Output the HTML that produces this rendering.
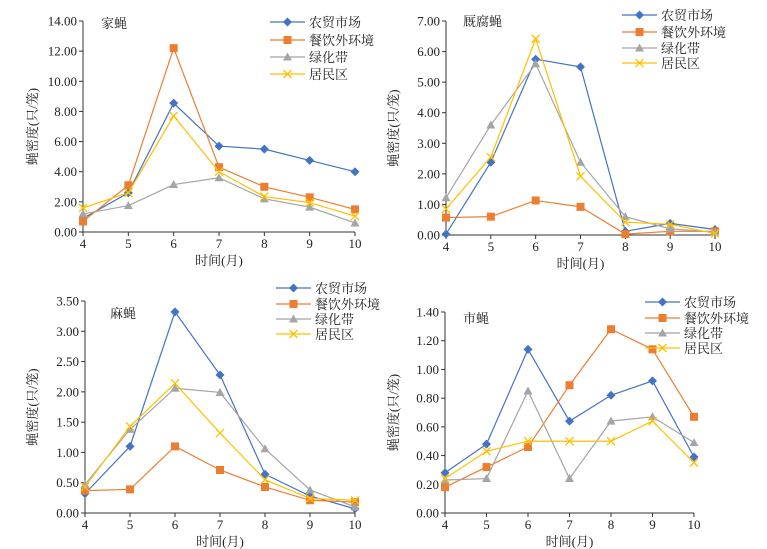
<!DOCTYPE html>
<html><head><meta charset="utf-8"><style>
html,body{margin:0;padding:0;background:#fff;}
svg{display:block;font-family:"Liberation Serif","Noto Serif CJK SC","Noto Sans CJK SC",serif;}
</style></head><body>
<svg id="chart" width="767" height="549" viewBox="0 0 767 549" xmlns="http://www.w3.org/2000/svg"></svg>
<script>
const months = [4,5,6,7,8,9,10];
const seriesNames = ["农贸市场","餐饮外环境","绿化带","居民区"];
const housefly_market = [0.9,2.6,8.55,5.7,5.5,4.75,4.0];
const housefly_food = [0.7,3.1,12.2,4.3,3.0,2.3,1.5];
const housefly_green = [1.2,1.75,3.15,3.6,2.2,1.65,0.6];
const housefly_resid = [1.6,2.6,7.7,4.0,2.35,1.95,1.05];
const blowfly_market = [0.03,2.38,5.75,5.5,0.12,0.38,0.18];
const blowfly_food = [0.57,0.6,1.13,0.92,0.03,0.12,0.12];
const blowfly_green = [1.22,3.6,5.6,2.38,0.6,0.2,0.1];
const blowfly_resid = [0.85,2.55,6.42,1.92,0.42,0.35,0.05];
const flesh_market = [0.32,1.1,3.32,2.28,0.64,0.28,0.07];
const flesh_food = [0.37,0.39,1.1,0.71,0.43,0.21,0.18];
const flesh_green = [0.47,1.38,2.06,1.99,1.06,0.38,0.1];
const flesh_resid = [0.43,1.43,2.14,1.32,0.55,0.24,0.21];
const musca_market = [0.28,0.48,1.14,0.64,0.82,0.92,0.39];
const musca_food = [0.18,0.32,0.46,0.89,1.28,1.14,0.67];
const musca_green = [0.23,0.24,0.85,0.24,0.64,0.67,0.49];
const musca_resid = [0.24,0.43,0.50,0.50,0.50,0.64,0.35];
const ticks1 = [0,2,4,6,8,10,12,14];
const ticks2 = [0,1,2,3,4,5,6,7];
const ticks3 = [0,0.5,1,1.5,2,2.5,3,3.5];
const ticks4 = [0,0.2,0.4,0.6,0.8,1.0,1.2,1.4];

const colors=["#4472C4","#ED7D31","#A5A5A5","#FFC000"];
const NS="http://www.w3.org/2000/svg";
const svg=document.getElementById('chart');
function mk(tag,attrs,parent){const e=document.createElementNS(NS,tag);for(const k in attrs)e.setAttribute(k,attrs[k]);(parent||svg).appendChild(e);return e;}

const panels=[
 {key:'housefly',title:'家蝇',data:[housefly_market,housefly_food,housefly_green,housefly_resid],ticks:ticks1,x0:83,x1:355,y0:232,y1:21,tx:101,ty:28,ytx:37,lx:270,ly:[22,40,57,74]},
 {key:'blowfly',title:'厩腐蝇',data:[blowfly_market,blowfly_food,blowfly_green,blowfly_resid],ticks:ticks2,x0:446,x1:715,y0:235,y1:21,tx:463,ty:26,ytx:398,lx:622,ly:[15,32,48,63]},
 {key:'fleshfly',title:'麻蝇',data:[flesh_market,flesh_food,flesh_green,flesh_resid],ticks:ticks3,x0:85,x1:355,y0:513,y1:301,tx:110,ty:318,ytx:37,lx:276,ly:[288,304,319,334]},
 {key:'muscafly',title:'市蝇',data:[musca_market,musca_food,musca_green,musca_resid],ticks:ticks4,x0:445,x1:694,y0:513,y1:312,tx:463,ty:323,ytx:398,lx:645,ly:[302,318,333,348]}
];

function marker(g,type,x,y,c){
  let e;
  if(type===0){e=mk('path',{d:`M${x},${y-4.5}L${x+4.5},${y}L${x},${y+4.5}L${x-4.5},${y}Z`,fill:c},g);}
  else if(type===1){e=mk('rect',{x:x-4,y:y-4,width:8,height:8,fill:c},g);}
  else if(type===2){e=mk('path',{d:`M${x},${y-4.5}L${x+4.5},${y+3.5}L${x-4.5},${y+3.5}Z`,fill:c},g);}
  else {e=mk('path',{d:`M${x-4},${y-4}L${x+4},${y+4}M${x-4},${y+4}L${x+4},${y-4}`,stroke:c,'stroke-width':1.3,fill:'none'},g);}
  
  
}

panels.forEach(p=>{
  const g=mk('g',{});
  
  
  const tmax=p.ticks[p.ticks.length-1];
  const xs=m=>p.x0+(m-months[0])/(months[months.length-1]-months[0])*(p.x1-p.x0);
  const ys=v=>p.y0-v/tmax*(p.y0-p.y1);
  const ya=mk('line',{x1:p.x0,y1:p.y1,x2:p.x0,y2:p.y0,stroke:'#333','stroke-width':1},g);
  
  const xa=mk('line',{x1:p.x0,y1:p.y0,x2:p.x1,y2:p.y0,stroke:'#333','stroke-width':1},g);
  
  p.ticks.forEach(t=>{
    const y=ys(t);
    mk('line',{x1:p.x0-4,y1:y,x2:p.x0,y2:y,stroke:'#333'},g);
    const tl=mk('text',{x:p.x0-6,y:y+4.5,'text-anchor':'end','font-size':13,fill:'#222'},g);
    tl.textContent=t.toFixed(2);
    
  });
  months.forEach(m=>{
    const x=xs(m);
    mk('line',{x1:x,y1:p.y0,x2:x,y2:p.y0+4,stroke:'#333'},g);
    const tl=mk('text',{x:x,y:p.y0+16,'text-anchor':'middle','font-size':13,fill:'#222'},g);
    tl.textContent=m;
    
  });
  const xt=mk('text',{x:(p.x0+p.x1)/2,y:p.y0+33,'text-anchor':'middle','font-size':13,fill:'#222'},g);
  xt.textContent='时间(月)';
  
  const ym=(p.y0+p.y1)/2;
  const yt=mk('text',{x:p.ytx,y:ym,'text-anchor':'middle','font-size':13,fill:'#222',transform:`rotate(-90 ${p.ytx} ${ym})`},g);
  yt.textContent='蝇密度(只/笼)';
  
  const tt=mk('text',{x:p.tx,y:p.ty,'font-size':13,fill:'#222'},g);
  tt.textContent=p.title;
  
  p.data.forEach((arr,si)=>{
    const pts=arr.map((v,i)=>xs(months[i])+','+ys(v)).join(' ');
    const pl=mk('polyline',{points:pts,fill:'none',stroke:colors[si],'stroke-width':1.2},g);
    
    arr.forEach((v,i)=>marker(g,si,xs(months[i]),ys(v),colors[si]));
  });
  seriesNames.forEach((n,si)=>{
    const y=p.ly[si];
    const ll=mk('line',{x1:p.lx,y1:y,x2:p.lx+35,y2:y,stroke:colors[si],'stroke-width':1.2},g);
    
    marker(g,si,p.lx+17.5,y,colors[si]);
    const lt=mk('text',{x:p.lx+39,y:y+5,'font-size':13,fill:'#222'},g);
    lt.textContent=n;
    
  });
});
</script>
</body></html>
